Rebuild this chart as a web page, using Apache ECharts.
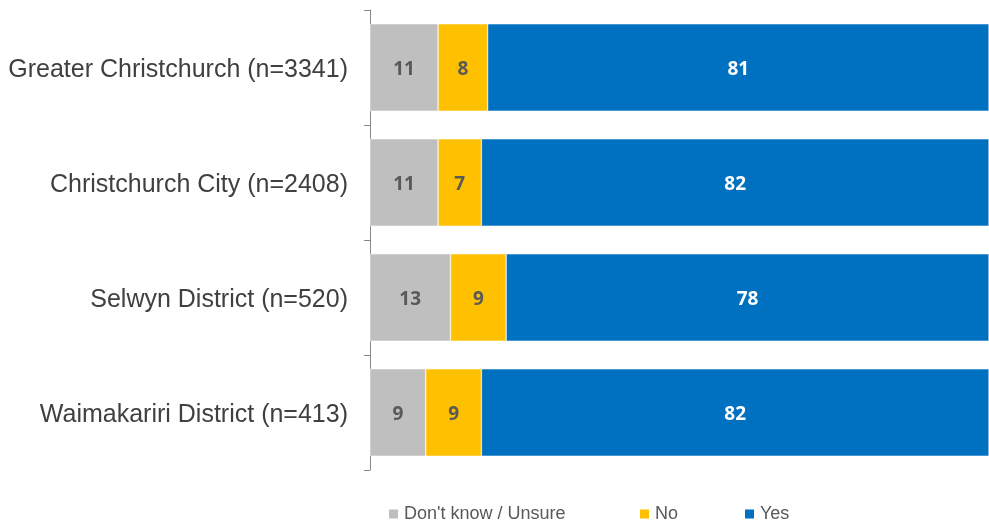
<!DOCTYPE html>
<html><head><meta charset="utf-8">
<script src="https://cdn.jsdelivr.net/npm/echarts@6/dist/echarts.min.js"></script>
<style>html,body{margin:0;padding:0;background:#fff}#c{width:989px;height:522px}</style>
</head><body><div id="c"></div>
<script>
const categories = ['Greater Christchurch (n=3341)','Christchurch City (n=2408)','Selwyn District (n=520)','Waimakariri District (n=413)'];
const dontKnow = [11, 11, 13, 9];
const no = [8, 7, 9, 9];
const yes = [81, 82, 78, 82];
const seriesNames = ["Don't know / Unsure", 'No', 'Yes'];
const colors = ['#BFBFBF', '#FFC000', '#0070C0'];
const labelColors = ['#595959', '#595959', '#FFFFFF'];
const values = [dontKnow, no, yes];

const legendText = {fontFamily: 'Liberation Sans', fontSize: 18, color: '#595959'};
const legendBase = {top: 505, padding: 0, icon: 'rect', itemWidth: 11, itemHeight: 11, itemGap: 4, textStyle: legendText};

const chart = echarts.init(document.getElementById('c'));
chart.setOption({
  animation: false,
  grid: {left: 370, right: 0, top: 10, bottom: 52},
  legend: [
    Object.assign({data: [seriesNames[0]], left: 387}, legendBase),
    Object.assign({data: [seriesNames[1]], left: 638}, legendBase),
    Object.assign({data: [seriesNames[2]], left: 743}, legendBase)
  ],
  xAxis: {type: 'value', min: 0, max: 100, show: false},
  yAxis: {
    type: 'category', data: categories, inverse: true,
    axisLine: {lineStyle: {color: '#868686', width: 1}},
    axisTick: {show: true, length: 6, lineStyle: {color: '#868686'}},
    axisLabel: {
      margin: 22,
      formatter: v => '{c|' + v + '}',
      rich: {c: {fontFamily: 'Liberation Sans', fontSize: 25, color: '#404040', padding: [6, 0, 0, 0]}}
    }
  },
  series: values.map((v, i) => ({
    name: seriesNames[i], type: 'bar', stack: 'total', data: v,
    barWidth: '76%',
    itemStyle: {color: colors[i], borderColor: '#fff', borderWidth: 0.5},
    label: {show: true, position: 'inside', color: labelColors[i], fontFamily: 'Open Sans',
            fontWeight: 'bold', fontSize: 19, offset: [0, 2]}
  }))
});
</script></body></html>
